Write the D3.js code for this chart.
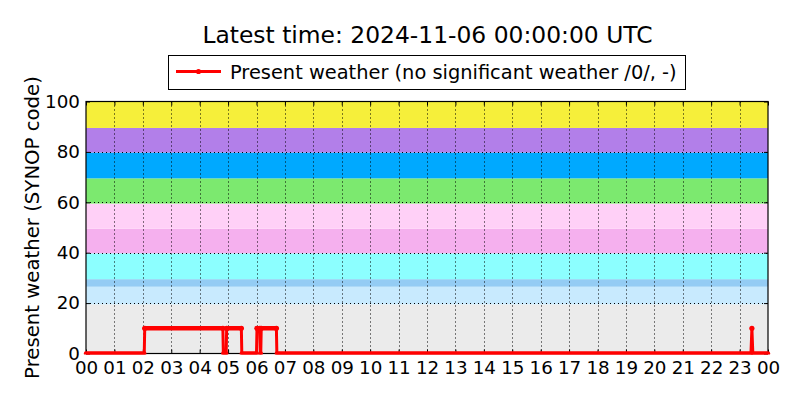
<!DOCTYPE html>
<html><head><meta charset="utf-8">
<script src="https://cdn.jsdelivr.net/npm/d3@7"></script>
<style>
body{margin:0;background:#fff;}
text{font-family:"DejaVu Sans",sans-serif;fill:#000;}
</style></head>
<body><svg id="chart" width="800" height="400"></svg>
<script>
// ---- data ----
const titleText = "Latest time: 2024-11-06 00:00:00 UTC";
const yLabel = "Present weather (SYNOP code)";
const seriesName = "Present weather (no significant weather /0/, -)";
// observation times (HH:MM UTC) and SYNOP ww values
const obsTimes = ["00:00","02:03","02:04","04:49","04:50","04:56","04:57","05:28","05:29",
                  "06:00","06:01","06:07","06:08","06:09","06:10","06:42","06:43",
                  "23:24","23:26","23:28","24:00"];
const obsValues = [0,0,10,10,0,0,10,10,0,
                   0,10,10,0,0,10,10,0,
                   0,10,0,0];
// background bands: low, high, colour
const bandLow  = [0, 19.5, 26.5, 29.5, 39.75, 49.5, 59.5, 69.5, 79.75, 89.5];
const bandHigh = [19.5, 26.5, 29.5, 39.75, 49.5, 59.5, 69.5, 79.75, 89.5, 100];
const bandColors = ["#ebebeb","#c8eafe","#94ccf4","#8cffff","#f5b0ee","#ffd0f7","#7ce96f","#00a9ff","#b27fe9","#f6ef3a"];
const yTicks = [0,20,40,60,80,100];
const xTickLabels = ["00","01","02","03","04","05","06","07","08","09","10","11","12","13","14","15","16","17","18","19","20","21","22","23","00"];

// ---- layout ----
const svg = d3.select("#chart");
const L = 86, R = 768, T = 101.5, B = 353.5;
const toH = s => { const [h,m] = s.split(":").map(Number); return h + m/60; };
const x = d3.scaleLinear().domain([0,24]).range([L,R]);
const y = d3.scaleLinear().domain([0,100]).range([B,T]);

// bands
svg.append("g").selectAll("rect").data(bandLow).join("rect")
  .attr("x", L).attr("width", R-L)
  .attr("y", (d,i)=>y(bandHigh[i])).attr("height", (d,i)=>y(bandLow[i])-y(bandHigh[i]))
  .attr("fill", (d,i)=>bandColors[i]);

// grid
const xTickVals = xTickLabels.map((d,i)=>i);
const grid = svg.append("g").attr("stroke","#000").attr("stroke-width",1).attr("stroke-dasharray","1,3");
grid.selectAll("line.v").data(xTickVals.slice(1,-1)).join("line")
  .attr("x1", d=>Math.round(x(d))+0.5).attr("x2", d=>Math.round(x(d))+0.5).attr("y1",T).attr("y2",B);
grid.selectAll("line.h").data(yTicks.slice(1,-1)).join("line").attr("class","h")
  .attr("y1", d=>Math.round(y(d))+0.5).attr("y2", d=>Math.round(y(d))+0.5).attr("x1",L).attr("x2",R);

// axes (ticks inward)
const xAxis = d3.axisBottom(x).tickValues(xTickVals).tickFormat((d,i)=>xTickLabels[i]).tickSizeInner(-4).tickSizeOuter(0).tickPadding(7.5);
const gx = svg.append("g").attr("transform",`translate(0,${B})`).call(xAxis);
gx.select(".domain").remove();
gx.selectAll("text").attr("font-size","18.3px").attr("font-family","DejaVu Sans");
const yAxis = d3.axisLeft(y).tickValues(yTicks).tickSizeInner(-4).tickSizeOuter(0).tickPadding(6);
const gy = svg.append("g").attr("transform",`translate(${L},0)`).call(yAxis);
gy.select(".domain").remove();
gy.selectAll("text").attr("font-size","18.3px").attr("font-family","DejaVu Sans");
const gyr = svg.append("g").attr("transform",`translate(${R},0)`).call(d3.axisRight(y).tickValues(yTicks).tickSizeInner(-4).tickSizeOuter(0).tickFormat(""));
gyr.select(".domain").remove();
const gxt = svg.append("g").attr("transform",`translate(0,${T})`).call(d3.axisTop(x).tickValues(xTickVals).tickSizeInner(-4).tickSizeOuter(0).tickFormat(""));
gxt.select(".domain").remove();

// frame
svg.append("rect").attr("x",L).attr("y",T).attr("width",R-L).attr("height",B-T)
  .attr("fill","none").attr("stroke","#000").attr("stroke-width",1.2);

// data line
svg.append("clipPath").attr("id","clip").append("rect").attr("x",L-3).attr("y",T).attr("width",R-L+6).attr("height",B-T+1);
const pts = obsTimes.map((t,i)=>[toH(t), obsValues[i]]);
const lineG = svg.append("g").attr("clip-path","url(#clip)");
lineG.append("path").datum(pts)
  .attr("d", d3.line().x(d=>x(d[0])).y(d=>y(d[1])))
  .attr("fill","none").attr("stroke","#ff0000").attr("stroke-width",3).attr("stroke-linejoin","round");
// horizontal runs look thicker because of the dense point markers
const runs = pts.slice(0,-1).map((d,i)=>[d, pts[i+1]]).filter(p=>p[0][1]===p[1][1]);
lineG.append("g").selectAll("line").data(runs).join("line")
  .attr("x1",p=>x(p[0][0])).attr("y1",p=>y(p[0][1]))
  .attr("x2",p=>x(p[1][0])).attr("y2",p=>y(p[1][1]))
  .attr("stroke","#ff0000").attr("stroke-width",4.5).attr("stroke-linecap","round");
lineG.append("g").selectAll("circle").data(pts.filter(d=>d[1]>0)).join("circle")
  .attr("cx",d=>x(d[0])).attr("cy",d=>y(d[1])).attr("r",2.6).attr("fill","#ff0000");

// y label
svg.append("text").attr("transform",`translate(38.5,${(T+B)/2}) rotate(-90)`)
  .attr("text-anchor","middle").attr("font-size","19.7px").text(yLabel);

// title
svg.append("text").attr("x",427.5).attr("y",43).attr("text-anchor","middle").attr("font-size","23.4px").text(titleText);

// legend
const lg = svg.append("g");
lg.append("rect").attr("x",168.5).attr("y",55.5).attr("width",517).attr("height",34)
  .attr("fill","#fff").attr("stroke","#000").attr("stroke-width",1);
lg.append("line").attr("x1",176).attr("x2",221).attr("y1",71.5).attr("y2",71.5).attr("stroke","#ff0000").attr("stroke-width",3);
lg.append("circle").attr("cx",198.5).attr("cy",71.5).attr("r",2.6).attr("fill","#ff0000");
lg.append("text").attr("x",230).attr("y",78.5).attr("font-size","19.4px").text(seriesName);
</script></body></html>
